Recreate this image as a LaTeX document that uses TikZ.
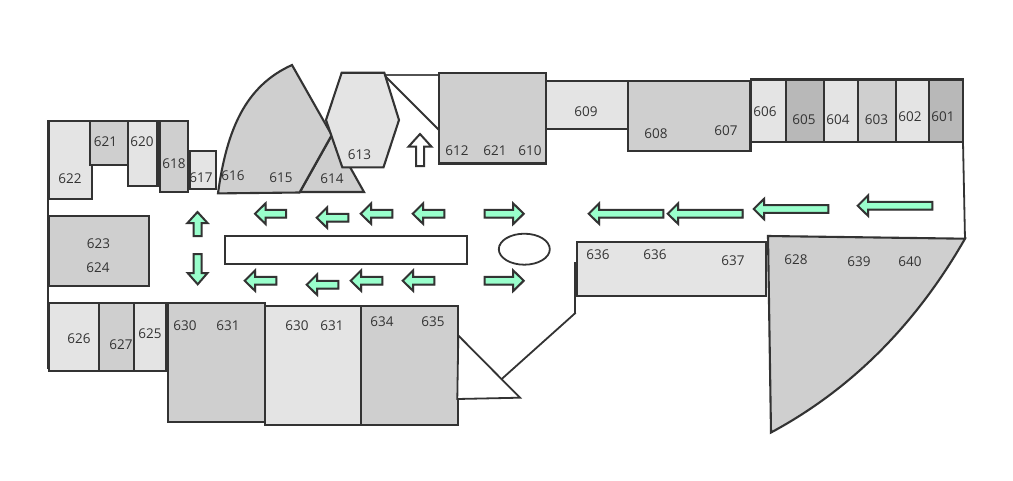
\documentclass[tikz,border=0pt]{standalone}
\usepackage{fontspec}
\setmainfont{Open Sans}
\definecolor{ink}{HTML}{333333}
\definecolor{lite}{HTML}{E4E4E4}
\definecolor{mid}{HTML}{CFCFCF}
\definecolor{deep}{HTML}{B8B8B8}
\definecolor{mint}{HTML}{99FFCC}
\tikzset{
  wall/.style={draw=ink,line width=2.1pt,line join=miter},
  thinwall/.style={draw=ink,line width=1.8pt},
  litebox/.style={wall,fill=lite},
  midbox/.style={wall,fill=mid},
  deepbox/.style={wall,fill=deep},
  flow/.style={draw=ink,fill=mint,line width=2pt,line join=miter},
  hollow/.style={draw=ink,fill=white,line width=2pt,line join=miter},
  flowshadow/.style={fill=black!35,draw=none},
  num/.style={text=ink,inner sep=0pt,font=\fontsize{13.5}{15}\selectfont},
}
% tip x, y, tail x
\newcommand{\ArrL}[3]{%
  \path[flowshadow,shift={(.8,.8)}] (#1,#2) -- (#1+10.5,#2-10.3) -- (#1+10.5,#2-3.8) -- (#3,#2-3.8) -- (#3,#2+3.8) -- (#1+10.5,#2+3.8) -- (#1+10.5,#2+10.3) -- cycle;
  \path[flow] (#1,#2) -- (#1+10.5,#2-10.3) -- (#1+10.5,#2-3.8) -- (#3,#2-3.8) -- (#3,#2+3.8) -- (#1+10.5,#2+3.8) -- (#1+10.5,#2+10.3) -- cycle;}
\newcommand{\ArrR}[3]{%
  \path[flowshadow,shift={(.8,.8)}] (#1,#2) -- (#1-10.5,#2-10.3) -- (#1-10.5,#2-3.8) -- (#3,#2-3.8) -- (#3,#2+3.8) -- (#1-10.5,#2+3.8) -- (#1-10.5,#2+10.3) -- cycle;
  \path[flow] (#1,#2) -- (#1-10.5,#2-10.3) -- (#1-10.5,#2-3.8) -- (#3,#2-3.8) -- (#3,#2+3.8) -- (#1-10.5,#2+3.8) -- (#1-10.5,#2+10.3) -- cycle;}
\begin{document}
\begin{tikzpicture}[x=1pt,y=-1pt]
\useasboundingbox[fill=white] (0,0) rectangle (1013,480);

% outer walls and free lines
\draw[wall,line width=2.4pt] (48,120) -- (48,369);
\draw[thinwall,draw=ink!85] (384,75) -- (439,75);
\draw[thinwall] (384,75) -- (439,130);
\draw[thinwall] (963,142) -- (965,239);
\draw[thinwall] (575.7,312.7) -- (501.7,379);
\draw[wall,line width=2.6pt] (575.3,262) -- (575.3,296);
\draw[thinwall] (575.3,296) -- (575.3,312.7);

% upper left rooms
\path[litebox] (49,121) -- (90,121) -- (90,165) -- (92.3,165) -- (92.3,198.7) -- (49,198.7) -- cycle;
\path[midbox] (90,121) rectangle (128,165);
\path[litebox] (128,121) rectangle (157.5,186);
\path[midbox] (160,121) rectangle (188,192);
\path[litebox] (190,151) rectangle (216,189);

% 614 triangle, 615/616 sector, 613 hexagon
\path[midbox] (300,192) -- (332,135) -- (364,192) -- cycle;
\path[midbox] (218,193.4) .. controls (226.7,129.8) and (245.3,86) .. (292,65) -- (331.7,135) -- (299.5,192.5) -- cycle;
\path[litebox] (341.7,72.7) -- (384.3,72.7) -- (399,120) -- (383.5,167.3) -- (342.3,167.3) -- (326,120) -- cycle;

% top row
\path[midbox] (439,72.7) rectangle (546,163.5);
\path[litebox] (546,81) rectangle (628,129);
\path[midbox] (628,81) rectangle (750.5,151);
\path[litebox] (751,79.5) rectangle (786,141.7);
\path[deepbox] (786,79.5) rectangle (824,141.7);
\path[litebox] (824,79.5) rectangle (858,141.7);
\path[midbox] (858,79.5) rectangle (896,141.7);
\path[litebox] (896,79.5) rectangle (929,141.7);
\path[deepbox] (929,79.5) rectangle (963,141.7);

% left column
\path[midbox] (49,216) rectangle (149,286);
\path[litebox] (49,303) rectangle (99,371);
\path[midbox] (99,303) rectangle (134,371);
\path[litebox] (134,303) rectangle (166,371);
\path[wall,line width=2.6pt] (167,303) -- (167,371);
\path[midbox] (168,303) rectangle (264.7,421.7);
\path[litebox] (264.7,306) rectangle (361,424.7);
\path[midbox] (361,306) rectangle (457.7,424.7);

% triangle by 635
\path[thinwall,fill=white,line join=miter] (458.3,335.5) -- (520,397.7) -- (457.3,399) -- cycle;

% centre and right
\path[wall,fill=white] (225,236) rectangle (467,264);
\path[thinwall,fill=white] (524.3,249.2) ellipse [x radius=25.5, y radius=15.5];
\path[litebox] (577,242) rectangle (766,296);
\path[midbox] (768,236) -- (965,238.7) .. controls (915,326) and (850,390) .. (771,432.5) -- cycle;

% flow arrows
\ArrL{255}{213.7}{286}
\ArrL{316.7}{217.7}{348.3}
\ArrL{360.7}{213.7}{392.3}
\ArrL{412.7}{213.7}{444.3}
\ArrR{523.7}{213.7}{484.7}
\ArrL{588.7}{213.7}{663.3}
\ArrL{667.7}{213.7}{742.7}
\ArrL{753.7}{209}{828.3}
\ArrL{857.7}{205.7}{932.3}
\ArrL{244.7}{280.7}{276.3}
\ArrL{306.7}{284.7}{338.3}
\ArrL{350.7}{280.7}{382.3}
\ArrL{402.7}{280.7}{434.3}
\ArrR{523.7}{280.7}{484.7}
\path[flow] (197.5,212) -- (207.5,223) -- (201.5,223) -- (201.5,236) -- (193.5,236) -- (193.5,223) -- (187.5,223) -- cycle;
\path[flow] (197.7,284.3) -- (207.5,273) -- (201.7,273) -- (201.7,254) -- (193.7,254) -- (193.7,273) -- (187.7,273) -- cycle;
\path[hollow] (420,134) -- (431.5,146.7) -- (424,146.7) -- (424,166) -- (416,166) -- (416,146.7) -- (408.5,146.7) -- cycle;

% labels
\node[num] (n622) at (70,178.6) {622};
\node[num] (n621a) at (105.5,141.6) {621};
\node[num] (n620) at (142,141.6) {620};
\node[num] (n618) at (174,164.1) {618};
\node[num] (n617) at (201,177.6) {617};
\node[num] (n616) at (233,175.6) {616};
\node[num] (n615) at (281,177.6) {615};
\node[num] (n614) at (332,178.6) {614};
\node[num] (n613) at (359.5,154.6) {613};
\node[num] (n612) at (457,150.6) {612};
\node[num] (n621b) at (495,150.6) {621};
\node[num] (n610) at (530,150.6) {610};
\node[num] (n609) at (586,111.6) {609};
\node[num] (n608) at (656,133.6) {608};
\node[num] (n607) at (726,130.6) {607};
\node[num] (n606) at (765,111.6) {606};
\node[num] (n605) at (804,119.6) {605};
\node[num] (n604) at (838,119.6) {604};
\node[num] (n603) at (876.5,119.6) {603};
\node[num] (n602) at (910,116.6) {602};
\node[num] (n601) at (943,116.6) {601};
\node[num] (n623) at (98.5,244.1) {623};
\node[num] (n624) at (98,267.6) {624};
\node[num] (n626) at (79,338.6) {626};
\node[num] (n627) at (121,345.1) {627};
\node[num] (n625) at (150,333.6) {625};
\node[num] (n630a) at (185,325.6) {630};
\node[num] (n631a) at (228,325.6) {631};
\node[num] (n630b) at (297,325.6) {630};
\node[num] (n631b) at (332,325.6) {631};
\node[num] (n634) at (382,321.6) {634};
\node[num] (n635) at (433,321.6) {635};
\node[num] (n636a) at (598,254.6) {636};
\node[num] (n636b) at (655,254.6) {636};
\node[num] (n637) at (733,260.6) {637};
\node[num] (n628) at (796,259.6) {628};
\node[num] (n639) at (859,261.6) {639};
\node[num] (n640) at (910,261.6) {640};
\end{tikzpicture}
\end{document}
